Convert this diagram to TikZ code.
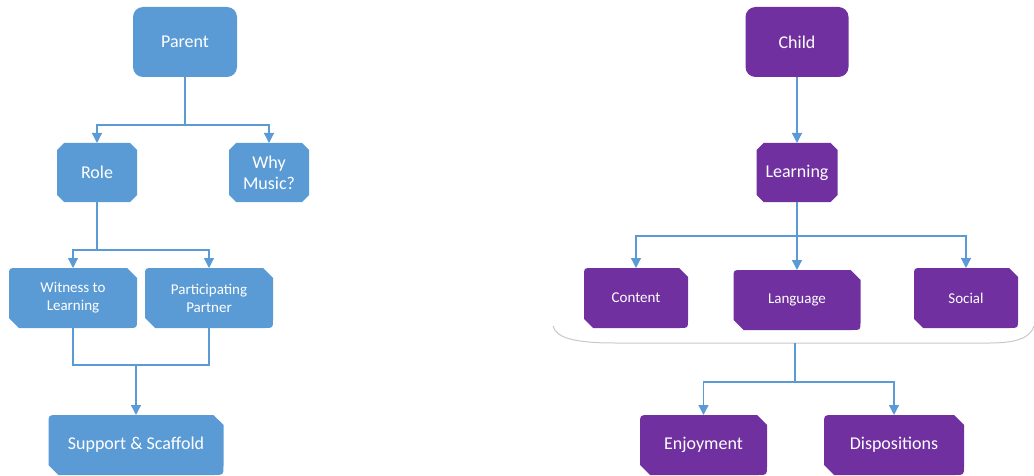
\documentclass[tikz,border=0pt]{standalone}
\usepackage{fontspec}
\setmainfont{Carlito}
\usetikzlibrary{arrows.meta,calc}
\definecolor{bluebox}{HTML}{5B9BD5}
\definecolor{purplebox}{HTML}{7030A0}
\definecolor{linkcol}{HTML}{5B9BD5}
\definecolor{curvecol}{HTML}{C8C8C8}
\pgfdeclarelayer{bg}
\pgfsetlayers{bg,main}
% name, colour, snip, radius
\newcommand\shapesnipround[4]{%
  \path[fill=#2] ([xshift=#4]#1.north west) -- ([xshift=-#3]#1.north east)
    -- ([yshift=-#3]#1.north east) -- ([yshift=#4]#1.south east)
    .. controls (#1.south east) .. ([xshift=-#4]#1.south east)
    -- ([xshift=#3]#1.south west) -- ([yshift=#3]#1.south west)
    -- ([yshift=-#4]#1.north west) .. controls (#1.north west) .. ([xshift=#4]#1.north west) -- cycle;}
% name, colour, snip
\newcommand\shapeoct[3]{%
  \path[fill=#2] ([xshift=#3]#1.north west) -- ([xshift=-#3]#1.north east)
    -- ([yshift=-#3]#1.north east) -- ([yshift=#3]#1.south east)
    -- ([xshift=-#3]#1.south east) -- ([xshift=#3]#1.south west)
    -- ([yshift=#3]#1.south west) -- ([yshift=-#3]#1.north west) -- cycle;}
\newcommand\shaperound[2]{%
  \path[fill=#2, rounded corners=10pt] (#1.north west) rectangle (#1.south east);}
\tikzset{
  boxtext/.style={text=white, align=center, inner sep=0pt, outer sep=0pt,
    font=\fontsize{18}{21}\selectfont},
  smalltext/.style={boxtext, font=\fontsize{15}{18}\selectfont},
  link/.style={draw=linkcol, line width=1.3pt},
  arr/.style={link, -{Triangle[width=10pt,length=10pt]}},
  curveline/.style={draw=curvecol, line width=1pt}
}
\begin{document}
\begin{tikzpicture}[x=1pt,y=-1pt]
\useasboundingbox (0,0) rectangle (1034,476);
% ---- left tree
\node[boxtext, minimum width=104pt, minimum height=70pt] (parent) at (185,42) {Parent};
\node[boxtext, minimum width=80pt, minimum height=59pt] (role) at (97,172.5) {Role};
\node[boxtext, minimum width=80pt, minimum height=59pt] (why) at (269,172.5) {Why\\Music?};
\node[smalltext, minimum width=128pt, minimum height=60pt] (witness) at (73,298) {Witness to\\Learning};
\node[smalltext, minimum width=128pt, minimum height=60pt] (partic) at (209,298) {Participating\\Partner};
\node[boxtext, minimum width=175pt, minimum height=60pt] (support) at (136,445) {Support \& Scaffold};
% ---- right tree
\node[boxtext, minimum width=103pt, minimum height=70pt] (child) at (797,42) {Child};
\node[boxtext, minimum width=81pt, minimum height=59pt] (learning) at (797,172.5) {Learning};
\node[smalltext, minimum width=104pt, minimum height=60pt] (content) at (636,298) {Content};
\node[smalltext, minimum width=127pt, minimum height=60pt] (language) at (797,300) {Language};
\node[smalltext, minimum width=104pt, minimum height=60pt] (social) at (966,298) {Social};
\node[boxtext, minimum width=127pt, minimum height=60pt] (enjoy) at (703.5,445) {Enjoyment};
\node[boxtext, minimum width=140pt, minimum height=60pt] (dispo) at (894,445) {Dispositions};
\begin{pgfonlayer}{bg}
  \shaperound{parent}{bluebox}
  \shapeoct{role}{bluebox}{7pt}
  \shapeoct{why}{bluebox}{7pt}
  \shapesnipround{witness}{bluebox}{10pt}{8pt}
  \shapesnipround{partic}{bluebox}{10pt}{8pt}
  \shapesnipround{support}{bluebox}{10pt}{9pt}
  \shaperound{child}{purplebox}
  \shapeoct{learning}{purplebox}{7pt}
  \shapesnipround{content}{purplebox}{9pt}{8pt}
  \shapesnipround{language}{purplebox}{10pt}{8pt}
  \shapesnipround{social}{purplebox}{9pt}{8pt}
  \shapesnipround{enjoy}{purplebox}{10pt}{9pt}
  \shapesnipround{dispo}{purplebox}{10pt}{9pt}
\end{pgfonlayer}
% ---- left connectors
\coordinate (j1) at (185,125);
\draw[link] (parent.south) -- (j1);
\draw[arr] (j1) -| (role.north);
\draw[arr] (j1) -| (why.north);
\coordinate (j2) at (97,250);
\draw[link] (role.south) -- (j2);
\draw[arr] (j2) -| (witness.north);
\draw[arr] (j2) -| (partic.north);
\coordinate (j3) at (136,365);
\draw[link] (witness.south) |- (j3) -| (partic.south);
\draw[arr] (j3) -- (support.north);
% ---- right connectors
\draw[arr] (child.south) -- (learning.north);
\coordinate (j4) at (797,236);
\draw[link] (learning.south) -- (j4);
\draw[arr] (j4) -| (content.north);
\draw[arr] (j4) -- (language.north);
\draw[arr] (j4) -| (social.north);
% curved bracket
\draw[curveline] (553,326) .. controls (556,338) and (575,343) .. (615,343)
  -- (990,343) .. controls (1020,343) and (1031,336) .. (1034,326);
\coordinate (brace) at (795,343);
\coordinate (j5) at (795,382);
\draw[link] (brace) -- (j5);
\draw[arr] (j5) -| (enjoy.north);
\draw[arr] (j5) -| (dispo.north);
\end{tikzpicture}
\end{document}
